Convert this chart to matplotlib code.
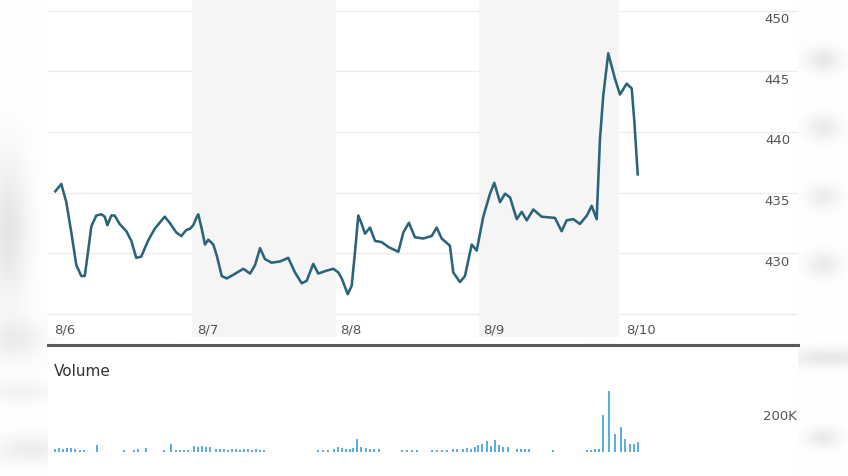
import numpy as np
import matplotlib
matplotlib.use("Agg")
import matplotlib.pyplot as plt
import matplotlib.transforms as mtransforms

# ---------------- data ----------------
day_labels = ["8/6", "8/7", "8/8", "8/9", "8/10"]
price_ticks = [430, 435, 440, 445, 450]
volume_tick = 200  # thousands
volume_tick_label = "200K"

# time in trading days since start of 8/6
price_t = [0.044, 0.086, 0.121, 0.156, 0.191, 0.226, 0.250, 0.273, 0.296, 0.331,
           0.366, 0.390, 0.408, 0.436, 0.459, 0.494, 0.541, 0.576, 0.610, 0.645,
           0.692, 0.739, 0.774, 0.809, 0.844, 0.890, 0.925, 0.960, 0.986, 1.009,
           1.030, 1.044, 1.068, 1.091, 1.114, 1.149, 1.173, 1.208, 1.243, 1.289,
           1.359, 1.406, 1.441, 1.476, 1.510, 1.557, 1.615, 1.673, 1.720, 1.767,
           1.802, 1.848, 1.883, 1.930, 1.988, 2.023, 2.047, 2.089, 2.117, 2.140,
           2.163, 2.187, 2.210, 2.245, 2.280, 2.327, 2.373, 2.443, 2.478, 2.517,
           2.559, 2.617, 2.676, 2.711, 2.746, 2.804, 2.827, 2.874, 2.909, 2.956,
           2.991, 3.037, 3.084, 3.114, 3.154, 3.189, 3.224, 3.271, 3.306, 3.341,
           3.387, 3.445, 3.538, 3.585, 3.620, 3.666, 3.713, 3.762, 3.795, 3.830,
           3.853, 3.876, 3.911, 3.958, 3.993, 4.040, 4.075, 4.094, 4.117]
price_v = [435.1, 435.7, 434.2, 431.7, 429.0, 428.1, 428.1, 430.1, 432.2, 433.1,
           433.2, 433.0, 432.3, 433.1, 433.1, 432.4, 431.8, 431.0, 429.6, 429.7,
           431.0, 432.0, 432.5, 433.0, 432.5, 431.7, 431.4, 431.9, 432.0, 432.3,
           432.9, 433.2, 432.0, 430.7, 431.1, 430.7, 429.8, 428.1, 427.9, 428.2,
           428.7, 428.3, 429.0, 430.4, 429.5, 429.2, 429.3, 429.6, 428.4, 427.5,
           427.7, 429.1, 428.3, 428.5, 428.7, 428.4, 427.9, 426.6, 427.3, 430.1,
           433.1, 432.4, 431.6, 432.1, 431.0, 430.9, 430.5, 430.1, 431.7, 432.5,
           431.3, 431.2, 431.4, 432.1, 431.2, 430.6, 428.4, 427.6, 428.1, 430.7,
           430.2, 433.0, 434.9, 435.8, 434.2, 434.9, 434.6, 432.8, 433.4, 432.7,
           433.6, 433.0, 432.9, 431.8, 432.7, 432.8, 432.4, 433.1, 433.9, 432.8,
           439.4, 443.0, 446.5, 444.4, 443.1, 444.0, 443.6, 440.8, 436.5]

vol_t = [0.042, 0.070, 0.098, 0.126, 0.154, 0.182, 0.217, 0.245, 0.336, 0.524,
         0.594, 0.622, 0.678, 0.804, 0.853, 0.888, 0.916, 0.944, 0.972,
         1.014, 1.042, 1.070, 1.098, 1.126, 1.168, 1.196, 1.224, 1.252, 1.280,
         1.308, 1.336, 1.364, 1.392, 1.420, 1.448, 1.476, 1.503,
         1.881, 1.916, 1.951, 1.993, 2.021, 2.049, 2.077, 2.105, 2.126, 2.154,
         2.182, 2.217, 2.245, 2.273, 2.308,
         2.469, 2.503, 2.538, 2.573, 2.678, 2.713, 2.748, 2.783, 2.825, 2.853,
         2.895, 2.923, 2.951, 2.979, 3.000, 3.028, 3.063, 3.091, 3.119, 3.147,
         3.175, 3.210, 3.273, 3.301, 3.329, 3.357, 3.524, 3.762, 3.790, 3.818,
         3.846, 3.874, 3.916, 3.958, 4.000, 4.028, 4.063, 4.091, 4.119]
vol_k = [13, 18, 13, 18, 18, 13, 9, 9, 31, 9,
         9, 13, 18, 9, 36, 9, 9, 9, 9,
         27, 22, 27, 22, 22, 13, 13, 13, 9, 13,
         13, 9, 13, 13, 9, 13, 9, 9,
         9, 9, 9, 13, 22, 18, 13, 13, 18, 58,
         22, 18, 13, 13, 13,
         9, 9, 9, 9, 9, 9, 9, 9, 13, 13,
         13, 18, 13, 22, 31, 36, 49, 27, 53, 31,
         22, 22, 13, 13, 13, 13, 9, 9, 9, 13,
         13, 164, 271, 80, 111, 58, 36, 36, 44]

# ---------------- figure ----------------
W, H = 848, 477
fig = plt.figure(figsize=(W / 100, H / 100), dpi=100)
fig.patch.set_facecolor("white")

def fx(px):
    return px / W

def fy(py):
    return 1 - py / H

# soft blurred background outside the chart panel (decorative)
bg = fig.add_axes([0, 0, 1, 1], zorder=-5)
bg.set_axis_off()
yy, xx = np.mgrid[0:H, 0:W]
shade = np.zeros((H, W))
for (cx, cy, sx, sy, a) in [(8, 230, 14, 50, 0.10), (15, 340, 20, 14, 0.07),
                            (20, 392, 25, 8, 0.05), (30, 450, 25, 10, 0.07),
                            (823, 60, 12, 9, 0.09), (823, 128, 12, 9, 0.08),
                            (823, 197, 12, 9, 0.07), (823, 265, 12, 9, 0.08),
                            (830, 358, 30, 7, 0.09), (823, 438, 12, 7, 0.08)]:
    shade += a * np.exp(-(((xx - cx) / sx) ** 2 + ((yy - cy) / sy) ** 2) / 2)
shade = np.clip(shade, 0, 0.5)
img = np.ones((H, W, 3)) * (1 - shade)[..., None]
bg.imshow(img, extent=(0, W, H, 0), aspect="auto", interpolation="bilinear")
bg.set_xlim(0, W)
bg.set_ylim(H, 0)

GRID = "#ececec"
BAND = "#f5f5f5"
LINE = "#2a6479"
BAR = "#5aaee2"
TXT = "#555555"

# price axes
ax = fig.add_axes([fx(48), fy(338), fx(750), 338 / H])
ax.set_facecolor("white")
ax.set_xlim(-0.007, 5.238)
ax.set_ylim(423.06, 450.99)
for s in ax.spines.values():
    s.set_visible(False)
ax.set_xticks([])
ax.set_yticks([])

for v in price_ticks + [425]:
    ax.axhline(v, color=GRID, lw=1.0, zorder=0.5)
ax.axvspan(1.0, 2.007, color=BAND, lw=0, zorder=1)
ax.axvspan(3.007, 3.986, color=BAND, lw=0, zorder=1)

ax.plot(price_t, price_v, color=LINE, lw=1.85, zorder=3, solid_joinstyle="round")

lab_off = mtransforms.ScaledTranslation(0, -8 / 100, fig.dpi_scale_trans)
ytrans = mtransforms.blended_transform_factory(fig.transFigure, ax.transData) + lab_off
for v in price_ticks:
    ax.text(fx(790), v, f"{v}", transform=ytrans, ha="right", va="center",
            fontsize=9.5, color=TXT, zorder=4)

xtrans = mtransforms.blended_transform_factory(ax.transData, ax.transAxes)
for i, lab in enumerate(day_labels):
    ax.text(i + 0.035, 0.024, lab, transform=xtrans, ha="left", va="center",
            fontsize=9.5, color=TXT, zorder=4)

# separator line
fig.add_artist(matplotlib.lines.Line2D([fx(48), fx(798)], [fy(346), fy(346)],
                                       color="#5a5a5a", lw=2.2))

# volume axes
vax = fig.add_axes([fx(48), 0, fx(750), 129 / H])
vax.set_facecolor("white")
vax.set_xlim(-0.007, 5.238)
vax.set_ylim(-107, 467)
for s in vax.spines.values():
    s.set_visible(False)
vax.set_xticks([])
vax.set_yticks([])
vax.bar(vol_t, vol_k, width=0.015, color=BAR, lw=0, zorder=2)

vtrans = mtransforms.blended_transform_factory(fig.transFigure, vax.transData) + lab_off
vax.text(fx(797), volume_tick, volume_tick_label, transform=vtrans, ha="right",
         va="center", fontsize=9.5, color=TXT)

fig.text(fx(54), fy(372), "Volume", ha="left", va="center", fontsize=11, color="#333333")

fig.savefig("out.png", dpi=100, facecolor=fig.get_facecolor())
